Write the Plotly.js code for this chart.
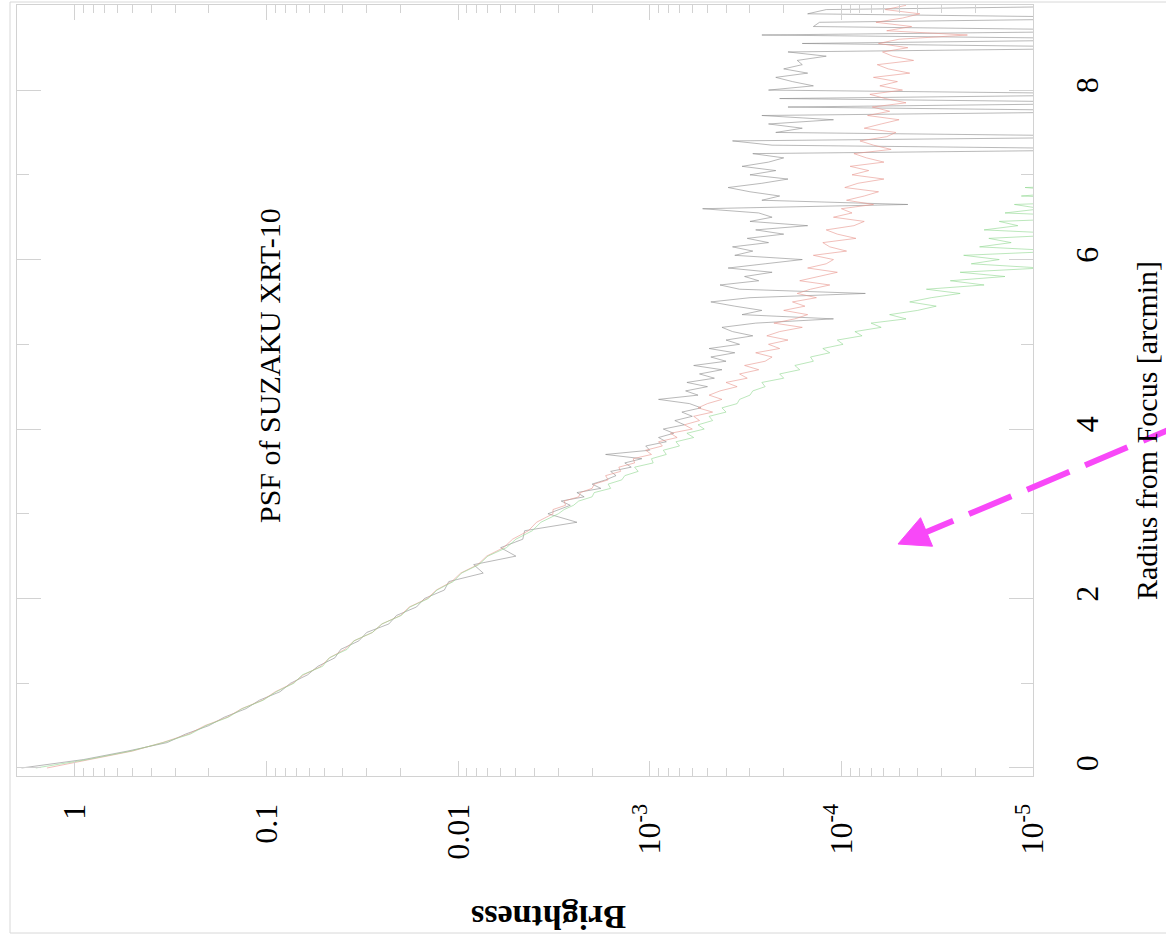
<!DOCTYPE html>
<html><head><meta charset="utf-8">
<script src="https://cdn.plot.ly/plotly-3.0.1.min.js"></script>
<style>html,body{margin:0;padding:0;background:#fff;overflow:hidden}#chart{width:1166px;height:937px}</style>
</head><body><div id="chart"></div>
<script>
// Radius from focus [arcmin]
const radius = [
  0,0.1,0.2,0.3,0.4,0.5,0.6,0.7,0.8,0.9,1.0,1.1,1.2,1.3,1.4,1.5,1.6,1.7,1.8,1.9,2.0,2.1,2.2,2.3,2.4,2.5,2.6,2.7,2.8,2.9,3.0,
  3.05,3.10,3.15,3.20,3.25,3.30,3.35,3.40,3.45,3.50,
  3.55,3.60,3.65,3.70,3.75,3.80,3.85,3.90,3.95,4.00,
  4.05,4.10,4.15,4.20,4.25,4.30,4.35,4.40,4.45,4.50,
  4.55,4.60,4.65,4.70,4.75,4.80,4.85,4.90,4.95,5.00,
  5.05,5.10,5.15,5.20,5.25,5.30,5.35,5.40,5.45,5.50,
  5.55,5.60,5.65,5.70,5.75,5.80,5.85,5.90,5.95,6.00,
  6.05,6.10,6.15,6.20,6.25,6.30,6.35,6.40,6.45,6.50,
  6.55,6.60,6.65,6.70,6.75,6.80,6.85,6.90,6.95,7.00,
  7.05,7.10,7.15,7.20,7.25,7.30,7.35,7.40,7.45,7.50,
  7.55,7.60,7.65,7.70,7.75,7.80,7.85,7.90,7.95,8.00,
  8.05,8.10,8.15,8.20,8.25,8.30,8.35,8.40,8.45,8.50,
  8.55,8.60,8.65,8.70,8.75,8.80,8.85,8.90,8.95,9.00
];

// Brightness, black curve
const brightnessBlack = [
  1.9,0.9,0.53,0.33,0.265,0.2,0.166,0.128,0.109,0.085,0.075,0.061,0.054,0.044,0.041,0.033,0.030,0.023,0.021,0.0165,0.0150,0.0118,0.0112,0.0074,0.0083,0.0050,0.0060,0.0046,0.0045,0.0024,0.0034,
  3.0e-3,2.6e-3,2.9e-3,2.2e-3,2.4e-3,1.8e-3,2.0e-3,1.7e-3,1.5e-3,1.6e-3,
  1.25e-3,1.35e-3,1.1e-3,1.7e-3,1.0e-3,1.05e-3,8.2e-4,9.0e-4,7.5e-4,8.5e-4,
  6.6e-4,7.4e-4,6.0e-4,6.8e-4,5.4e-4,6.2e-4,9.0e-4,5.6e-4,6.5e-4,5.0e-4,
  6.4e-4,4.6e-4,5.5e-4,4.2e-4,5.9e-4,4.0e-4,4.8e-4,3.6e-4,4.9e-4,3.4e-4,
  4.0e-4,2.9e-4,3.7e-4,4.2e-4,2.8e-4,1.1e-4,3.3e-4,2.6e-4,3.6e-4,4.8e-4,
  3.0e-4,7.5e-5,3.4e-4,4.3e-4,2.7e-4,3.2e-4,2.3e-4,3.9e-4,2.5e-4,1.6e-4,
  3.6e-4,2.9e-4,3.7e-4,2.4e-4,3.1e-4,2.0e-4,2.8e-4,1.5e-4,3.0e-4,2.3e-4,
  2.7e-4,5.3e-4,4.5e-5,2.6e-4,2.1e-4,3.0e-4,3.9e-4,2.6e-4,1.9e-4,3.0e-4,
  2.2e-4,3.3e-4,2.4e-4,2.0e-4,2.9e-4,2e-6,2.3e-4,3.7e-4,2e-6,2.2e-4,
  1.6e-4,2.4e-4,1.1e-4,2.6e-4,2e-6,1.9e-4,2e-6,2.1e-4,2e-6,2.4e-4,
  1.4e-4,1.8e-4,2.2e-4,1.5e-4,2.0e-4,1.6e-4,1.7e-4,1.2e-4,1.9e-4,2e-6,
  1.6e-4,2e-6,2.6e-4,2e-6,1.4e-4,1.3e-4,2e-6,1.5e-4,1.2e-4,2e-6
];

// Brightness, red curve
const brightnessRed = [
  1.4,0.85,0.5,0.35,0.255,0.21,0.16,0.135,0.105,0.09,0.073,0.064,0.052,0.047,0.039,0.035,0.028,0.025,0.020,0.018,0.0145,0.0130,0.0108,0.0097,0.0079,0.0071,0.0058,0.0052,0.0043,0.0039,0.0032,
  3.2e-3,2.75e-3,2.8e-3,2.35e-3,2.3e-3,2.0e-3,1.95e-3,1.65e-3,1.7e-3,1.42e-3,
  1.45e-3,1.2e-3,1.22e-3,9.8e-4,1.05e-3,8.6e-4,9.0e-4,7.2e-4,7.8e-4,6.0e-4,
  6.6e-4,5.5e-4,5.9e-4,4.7e-4,5.6e-4,5.0e-4,4.2e-4,4.9e-4,4.3e-4,3.5e-4,
  4.0e-4,3.1e-4,3.4e-4,2.7e-4,3.2e-4,2.5e-4,2.3e-4,2.8e-4,2.1e-4,2.4e-4,
  1.9e-4,2.45e-4,2.1e-4,1.6e-4,2.25e-4,1.75e-4,1.5e-4,2.0e-4,1.55e-4,1.8e-4,
  1.35e-4,1.7e-4,1.45e-4,1.15e-4,1.65e-4,1.3e-4,1.05e-4,1.5e-4,1.2e-4,1.1e-4,
  1.4e-4,9.4e-5,1.15e-4,1.25e-4,8.4e-5,1.05e-4,1.2e-4,8.6e-5,7.6e-5,1.1e-4,
  8.8e-5,1.0e-4,6.8e-5,9.4e-5,7.6e-5,6.4e-5,9.6e-5,8.2e-5,6.0e-5,8.8e-5,
  7.2e-5,9.0e-5,6.0e-5,7.4e-5,8.6e-5,5.5e-5,6.8e-5,8.0e-5,5.8e-5,5.2e-5,
  7.6e-5,6.2e-5,5.0e-5,7.3e-5,5.6e-5,6.9e-5,4.6e-5,5.9e-5,7.1e-5,4.8e-5,
  6.3e-5,5.1e-5,6.8e-5,4.4e-5,5.7e-5,6.5e-5,4.2e-5,5.4e-5,6.1e-5,4.5e-5,
  6.4e-5,5.0e-5,2.2e-5,5.8e-5,4.3e-5,6.6e-5,4.8e-5,3.9e-5,5.9e-5,4.6e-5
];

// Brightness, green curve (ends at 7 arcmin)
const brightnessGreen = [
  1.6,0.86,0.51,0.345,0.25,0.207,0.158,0.134,0.104,0.089,0.072,0.065,0.051,0.047,0.038,0.035,0.028,0.0250,0.0198,0.0178,0.0143,0.0129,0.0106,0.0096,0.0078,0.0070,0.0056,0.0050,0.0041,0.0037,0.0030,
  2.8e-3,2.5e-3,2.35e-3,2.0e-3,1.95e-3,1.6e-3,1.65e-3,1.4e-3,1.35e-3,1.15e-3,
  1.2e-3,9.6e-4,9.8e-4,8.2e-4,8.5e-4,7.0e-4,7.3e-4,5.9e-4,6.4e-4,5.2e-4,
  5.6e-4,4.7e-4,4.9e-4,4.0e-4,4.2e-4,3.5e-4,3.4e-4,3.0e-4,2.9e-4,2.5e-4,
  2.6e-4,2.0e-4,2.1e-4,1.65e-4,1.75e-4,1.4e-4,1.45e-4,1.15e-4,1.25e-4,9.8e-5,
  1.05e-4,7.8e-5,8.5e-5,6.2e-5,7.0e-5,4.6e-5,5.6e-5,4.0e-5,3.2e-5,4.4e-5,
  3.4e-5,2.4e-5,3.6e-5,1.8e-5,2.7e-5,1.4e-5,2.4e-5,9e-6,2.1e-5,1.5e-5,
  2.3e-5,7e-6,1.9e-5,1.3e-5,1.7e-5,6e-6,1.8e-5,1.2e-5,1.5e-5,4e-6,
  1.4e-5,9e-6,1.25e-5,3e-6,1.15e-5,6e-6,1.1e-5,2e-6,4e-6,2e-6
];

const brightnessTickVals = [1, 0.1, 0.01, 1e-3, 1e-4, 1e-5];
const brightnessTickText = ['1', '0.1', '0.01', '10<sup>-3</sup>', '10<sup>-4</sup>', '10<sup>-5</sup>'];
const radiusTickVals = [0, 2, 4, 6, 8];
const radiusTickText = ['0', '2', '4', '6', '8'];
const radiusMinorVals = [1, 3, 5, 7];

const chartTitle = 'PSF of SUZAKU XRT-10';
const xTitle = 'Brightness';
const yTitle = 'Radius from Focus [arcmin]';

// minor log ticks (2..9 per decade)
const brightnessMinorVals = [];
for (let d = -5; d <= 0; d++) for (let k = 2; k <= 9; k++) brightnessMinorVals.push(k * Math.pow(10, d));

// pixel -> paper helpers for decorations
const M = {l: 17, r: 133, t: 5, b: 161}, W = 1166, H = 937;
const PW = W - M.l - M.r, PH = H - M.t - M.b;
const px = v => (v - M.l) / PW;
const py = v => (H - M.b - v) / PH;

const axisGray = '#d2d2d2';
const fontFam = 'Liberation Serif, Times New Roman, serif';

const traces = [
  {x: brightnessBlack, y: radius, mode: 'lines', line: {color: '#8a8a8a', width: 0.6}, name: 'black'},
  {x: brightnessRed, y: radius, mode: 'lines', line: {color: '#e8948c', width: 0.6}, name: 'red'},
  {x: brightnessGreen, y: radius.slice(0, brightnessGreen.length), mode: 'lines', line: {color: '#8fd68f', width: 0.6}, name: 'green'}
];

// arrow geometry (decoration)
const tip = [898, 544], ux = 0.921, uy = -0.388, pxp = 0.388, pyp = 0.921;
const hb = [tip[0] + 31 * ux, tip[1] + 31 * uy];
const c1 = [hb[0] - 15.5 * pxp, hb[1] - 15.5 * pyp];
const c2 = [hb[0] + 15.5 * pxp, hb[1] + 15.5 * pyp];
const ls = [tip[0] + 14 * ux, tip[1] + 14 * uy];
const le = [tip[0] + 300 * ux, tip[1] + 300 * uy];
const magenta = '#f848f8';

const layout = {
  width: W, height: H,
  margin: M,
  showlegend: false,
  paper_bgcolor: '#ffffff', plot_bgcolor: '#ffffff',
  font: {family: fontFam, color: '#000'},
  xaxis: {
    type: 'log', range: [0.3025, -5.0],
    tickmode: 'array', tickvals: brightnessTickVals, ticktext: brightnessTickText,
    ticks: 'inside', ticklen: 15, tickwidth: 1, tickcolor: axisGray,
    showline: true, linecolor: axisGray, linewidth: 1, mirror: 'ticks',
    showgrid: false, zeroline: false,
    tickangle: -90, tickfont: {family: fontFam, size: 32, color: '#000'},
    ticklabelstandoff: 14,
    minor: {tickmode: 'array', tickvals: brightnessMinorVals, ticks: 'inside', ticklen: 8, tickwidth: 1, tickcolor: axisGray, showgrid: false}
  },
  yaxis: {
    range: [-0.0945, 9.004], side: 'right',
    tickmode: 'array', tickvals: radiusTickVals, ticktext: radiusTickText,
    ticks: 'inside', ticklen: 24, tickwidth: 1, tickcolor: axisGray,
    showline: true, linecolor: axisGray, linewidth: 1, mirror: 'ticks',
    showgrid: false, zeroline: false,
    tickangle: -90, tickfont: {family: fontFam, size: 32, color: '#000'},
    ticklabelstandoff: 26,
    minor: {tickmode: 'array', tickvals: radiusMinorVals, ticks: 'inside', ticklen: 12, tickwidth: 1, tickcolor: axisGray, showgrid: false}
  },
  annotations: [
    {text: chartTitle, xref: 'paper', yref: 'paper', x: px(269), y: py(366), xanchor: 'center', yanchor: 'middle', textangle: -90, showarrow: false, font: {family: fontFam, size: 30, color: '#000'}},
    {text: yTitle, xref: 'paper', yref: 'paper', x: px(1146), y: py(431), xanchor: 'center', yanchor: 'middle', textangle: -90, showarrow: false, font: {family: fontFam, size: 30, color: '#000'}},
    {text: '<b>' + xTitle + '</b>', xref: 'paper', yref: 'paper', x: px(549), y: py(918), xanchor: 'center', yanchor: 'middle', textangle: 180, showarrow: false, font: {family: fontFam, size: 34, color: '#000'}}
  ],
  shapes: [
    {type: 'rect', xref: 'paper', yref: 'paper', x0: px(10), x1: px(1200), y0: py(933), y1: py(2), line: {color: '#d8d8d8', width: 1}, layer: 'below'},
    {type: 'line', xref: 'paper', yref: 'paper', x0: px(ls[0]), y0: py(ls[1]), x1: px(le[0]), y1: py(le[1]), line: {color: magenta, width: 6, dash: '46px,17px'}},
    {type: 'path', xref: 'paper', yref: 'paper',
      path: 'M' + px(tip[0]) + ',' + py(tip[1]) + ' L' + px(c1[0]) + ',' + py(c1[1]) + ' L' + px(c2[0]) + ',' + py(c2[1]) + ' Z',
      fillcolor: magenta, line: {color: magenta, width: 1}}
  ]
};

Plotly.newPlot('chart', traces, layout, {displayModeBar: false, staticPlot: true});
</script>
</body></html>
